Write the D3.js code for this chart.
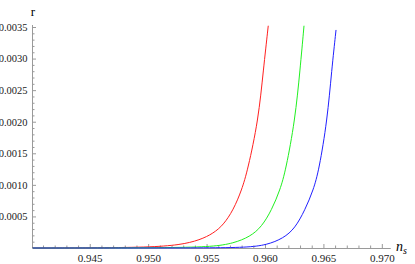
<!DOCTYPE html>
<html>
<head>
<meta charset="utf-8">
<script src="https://cdn.jsdelivr.net/npm/d3@7"></script>
<style>
  body { margin: 0; background: #fff; }
  .axis path, .axis line { stroke: #9a9a9a; }
  .axis text { font-family: "Liberation Serif", "Times New Roman", serif; font-size: 11px; fill: #222; }
  .y-axis text { font-size: 10.5px; }
  .lbl { font-family: "Liberation Serif", "Times New Roman", serif; }
</style>
</head>
<body>
<svg id="chart" width="415" height="264"></svg>
<script>
// values (n_s, r)
const redNs   = [0.9401, 0.945, 0.950, 0.95273, 0.95444, 0.95558, 0.95643, 0.95729, 0.95801, 0.95852, 0.95943, 0.95986, 0.96028];
const redR    = [0.0000008, 0.000002, 0.000011, 0.0000475, 0.000127, 0.000233, 0.000364, 0.000602, 0.000919, 0.001235, 0.002027, 0.002819, 0.00352];
const greenNs = [0.9401, 0.945, 0.952, 0.95558, 0.95729, 0.95872, 0.95972, 0.96057, 0.96129, 0.96178, 0.96257, 0.96300, 0.96334];
const greenR  = [0.0000002, 0.0000006, 0.000005, 0.0000206, 0.0000744, 0.000179, 0.000337, 0.000602, 0.000919, 0.001235, 0.002027, 0.002819, 0.00352];
const blueNs  = [0.9401, 0.950, 0.955, 0.95843, 0.96015, 0.96157, 0.96257, 0.96342, 0.96414, 0.96462, 0.96533, 0.96571, 0.96608];
const blueR   = [0.0000001, 0.0000006, 0.000002, 0.000008, 0.0000475, 0.000154, 0.000312, 0.000602, 0.000919, 0.001235, 0.002027, 0.002819, 0.003453];

const xMajor = [0.945, 0.950, 0.955, 0.960, 0.965, 0.970];
const yMajor = [0.0005, 0.0010, 0.0015, 0.0020, 0.0025, 0.0030, 0.0035];

const svg = d3.select('#chart');

const x = d3.scaleLinear().domain([0.9401, 0.9707]).range([32.5, 390]);
const y = d3.scaleLinear().domain([0, 0.0035]).range([248, 27]);

const xMinor = d3.range(941, 971).map(v => v / 1000).filter(v => !xMajor.some(m => Math.abs(m - v) < 1e-9));
const yMinor = d3.range(1, 36).map(v => v / 10000).filter(v => !yMajor.some(m => Math.abs(m - v) < 1e-9));

// x axis
svg.append('g')
    .attr('class', 'axis')
    .attr('transform', 'translate(0,248)')
    .call(d3.axisBottom(x).tickValues(xMinor).tickSize(-2.5).tickSizeOuter(0).tickFormat(''));
svg.append('g')
    .attr('class', 'axis')
    .attr('transform', 'translate(0,248)')
    .call(d3.axisBottom(x).tickValues(xMajor).tickSize(-4).tickSizeOuter(0).tickPadding(6.5).tickFormat(d3.format('.3f')));

// y axis
const yAxisG = svg.append('g')
    .attr('class', 'axis')
    .attr('transform', 'translate(32.5,0)');
yAxisG.call(d3.axisLeft(y).tickValues(yMinor).tickSize(-2).tickSizeOuter(0).tickFormat(''));
yAxisG.select('.domain').attr('d', `M0,${y(0)}V25`);
svg.append('g')
    .attr('class', 'axis y-axis')
    .attr('transform', 'translate(32.5,0)')
    .call(d3.axisLeft(y).tickValues(yMajor).tickSize(-3.5).tickSizeOuter(0).tickPadding(5).tickFormat(d3.format('.4f')))
    .select('.domain').remove();

// axis labels
svg.append('text')
    .attr('class', 'lbl')
    .attr('x', 33)
    .attr('y', 16)
    .attr('text-anchor', 'middle')
    .attr('font-size', 13)
    .text('r');

const nsLabel = svg.append('text')
    .attr('class', 'lbl')
    .attr('x', 396)
    .attr('y', 251)
    .attr('font-size', 14)
    .attr('font-style', 'italic');
nsLabel.append('tspan').text('n');
nsLabel.append('tspan').attr('dy', 3).attr('font-size', 10).text('s');

// curves
const series = [
    { ns: redNs, r: redR, color: '#ff2020' },
    { ns: greenNs, r: greenR, color: '#20f020' },
    { ns: blueNs, r: blueR, color: '#2020ff' }
];

const line = d3.line()
    .x(d => x(d[0]))
    .y(d => y(d[1]))
    .curve(d3.curveBasis);

svg.selectAll('path.curve')
    .data(series)
    .enter().append('path')
    .attr('class', 'curve')
    .attr('fill', 'none')
    .attr('stroke', d => d.color)
    .attr('stroke-width', 1)
    .attr('d', d => line(d.ns.map((v, i) => [v, d.r[i]])));
</script>
</body>
</html>
